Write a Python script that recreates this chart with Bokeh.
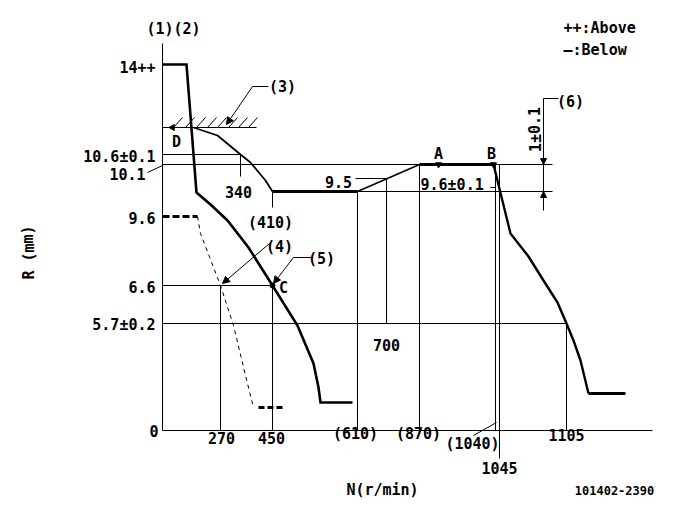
from bokeh.plotting import figure
from bokeh.models import Range1d, Arrow, NormalHead
from bokeh.core.properties import value
from bokeh.embed import file_html
from bokeh.resources import INLINE

# ---- schematic data (x: speed position, y: rack position; origin at axis corner) ----
main_x = [0, 24, 34, 48, 65, 86, 110, 135, 151, 156, 158, 190]
main_y = [366, 366, 238, 226, 210, 183, 145, 105, 67, 43, 28, 28]

gov_x = [31, 55, 78, 88, 103, 110]
gov_y = [303, 295, 276, 268, 250, 239]

flat1_x = [110, 195]
flat1_y = [239, 239]
ramp_x = [195, 257]
ramp_y = [239, 266]
flat2_x = [257, 331]
flat2_y = [266, 266]
drop_x = [331, 348, 366, 381, 395, 404, 411, 418, 426]
drop_y = [266, 197, 174, 150, 128, 107, 90, 70, 37]
tail_x = [426, 463]
tail_y = [37, 37]

dash_top_x = [0, 35]
dash_top_y = [214, 214]
dash_mid_x = [35, 38, 58, 71, 83, 91]
dash_mid_y = [214, 197, 145, 105, 55, 23]
dash_bot_x = [96, 123]
dash_bot_y = [23, 23]

# reference (thin) lines: x0, y0, x1, y1
ref_x0 = [0, 0, 0, 0, 110, 0, 0, 78, 110, 110, 58, 224, 193, 195, 257, 333, 337, 404, -15, 311, 381, 381, 328]
ref_y0 = [0, 0, 276, 266, 239, 145, 107, 276, 239, 145, 145, 252, 252, 239, 266, 266, 266, 107, 258, -5, 332, 332, 243]
ref_x1 = [0, 490, 78, 390, 390, 110, 404, 78, 110, 110, 58, 224, 224, 195, 257, 333, 337, 404, 0, 334, 381, 396, 333]
ref_y1 = [387, 0, 276, 266, 239, 145, 107, 254, 223, 0, 0, 107, 252, 0, 0, 0, -28, 0, 265, 8, 220, 332, 243]

# hatch (stop surface)
hatch_base_x = [0, 94]
hatch_base_y = [303, 303]
hatch_x = [11, 23, 34, 45, 55, 66, 76, 86]

# leaders with arrowheads: start -> end (arrow at end)
lead_xs = [[106, 90, 64], [107, 60], [150, 131, 111]]
lead_ys = [[344, 344, 306], [187, 147], [173, 173, 147]]

# labels
ylab_text = ["14++", "10.6±0.1", "10.1", "9.6", "6.6", "5.7±0.2", "0"]
ylab_x = [-7, -7, -17, -7, -7, -7, -4]
ylab_y = [364, 274, 257, 213, 144, 106, 0]

clab_text = ["(1)(2)", "270", "450", "(610)", "(870)", "(1040)", "1045", "1105",
             "N(r/min)", "340", "(410)", "700", "9.5", "A", "B", "C", "D",
             "(3)", "(4)", "(5)", "(6)"]
clab_x = [11, 59, 109, 193, 256, 310, 337, 404, 220, 76, 108, 224, 176, 276, 329, 121, 14,
          120, 117, 159, 408]
clab_y = [402, -7, -7, -3, -3, -13, -37, -4, -59, 239, 208, 86, 249, 277, 277, 143, 289,
          344, 184, 172, 329]

llab_text = ["9.6±0.1", "++:Above", "—:Below"]
llab_x = [258, 401, 401]
llab_y = [246, 403, 381]

FONT = value("DejaVu Sans Mono")

p = figure(width=669, height=503, x_range=Range1d(-162, 507), y_range=Range1d(-73, 430),
           output_backend="svg", toolbar_location=None, x_axis_type=None, y_axis_type=None,
           min_border=0, outline_line_color=None, background_fill_color="white",
           border_fill_color="white")
p.grid.visible = False

# thin reference lines
p.segment(x0=ref_x0, y0=ref_y0, x1=ref_x1, y1=ref_y1, line_color="black", line_width=1)

# hatch
p.line(hatch_base_x, hatch_base_y, line_color="black", line_width=1)
p.segment(x0=hatch_x, y0=[303] * len(hatch_x), x1=[h + 9 for h in hatch_x],
          y1=[313] * len(hatch_x), line_color="black", line_width=1)

# curves
p.line(main_x, main_y, line_color="black", line_width=2.6, line_join="miter")
p.line(gov_x, gov_y, line_color="black", line_width=1.8)
p.line(flat1_x, flat1_y, line_color="black", line_width=3)
p.line(ramp_x, ramp_y, line_color="black", line_width=1.6)
p.line(flat2_x, flat2_y, line_color="black", line_width=3)
p.line(drop_x, drop_y, line_color="black", line_width=2.4)
p.line(tail_x, tail_y, line_color="black", line_width=3)

p.line(dash_top_x, dash_top_y, line_color="black", line_width=3, line_dash="7 3")
p.line(dash_mid_x, dash_mid_y, line_color="black", line_width=1, line_dash="4 4")
p.line(dash_bot_x, dash_bot_y, line_color="black", line_width=3, line_dash="6 3")

# leaders with arrowheads
for xs, ys in zip(lead_xs, lead_ys):
    if len(xs) > 2:
        p.line(xs[:-1], ys[:-1], line_color="black", line_width=1)
    p.add_layout(Arrow(end=NormalHead(size=7, fill_color="black", line_color="black"),
                       x_start=xs[-2], y_start=ys[-2], x_end=xs[-1], y_end=ys[-1],
                       line_color="black", line_width=1))

# dimension (6) arrows
p.add_layout(Arrow(end=NormalHead(size=6, fill_color="black", line_color="black"),
                   x_start=381, y_start=290, x_end=381, y_end=266, line_width=1))
p.add_layout(Arrow(end=NormalHead(size=6, fill_color="black", line_color="black"),
                   x_start=381, y_start=222, x_end=381, y_end=239, line_width=1))

# point markers
p.scatter([276, 331], [266, 266], marker="triangle", angle=3.14159, size=6, color="black")
p.scatter([10], [303], marker="triangle", angle=1.5708, size=6, color="black")
p.scatter([110], [145], marker="circle", size=5, color="black")

# texts
p.text(ylab_x, ylab_y, text=ylab_text, text_font=FONT, text_font_style="bold",
       text_font_size="15px", text_align="right", text_baseline="middle", text_color="black")
p.text(clab_x, clab_y, text=clab_text, text_font=FONT, text_font_style="bold",
       text_font_size="15px", text_align="center", text_baseline="middle", text_color="black")
p.text(llab_x, llab_y, text=llab_text, text_font=FONT, text_font_style="bold",
       text_font_size="15px", text_align="left", text_baseline="middle", text_color="black")
p.text([452], [-59.5], text=["101402-2390"], text_font=FONT, text_font_style="bold",
       text_font_size="12px", text_align="center", text_baseline="middle", text_color="black")
p.text([-134], [178], text=["R (mm)"], angle=1.5708, text_font=FONT, text_font_style="bold",
       text_font_size="15px", text_align="center", text_baseline="middle", text_color="black")
p.text([373], [301], text=["1±0.1"], angle=1.5708, text_font=FONT, text_font_style="bold",
       text_font_size="15px", text_align="center", text_baseline="middle", text_color="black")

open("out.html", "w").write(file_html(p, INLINE))
